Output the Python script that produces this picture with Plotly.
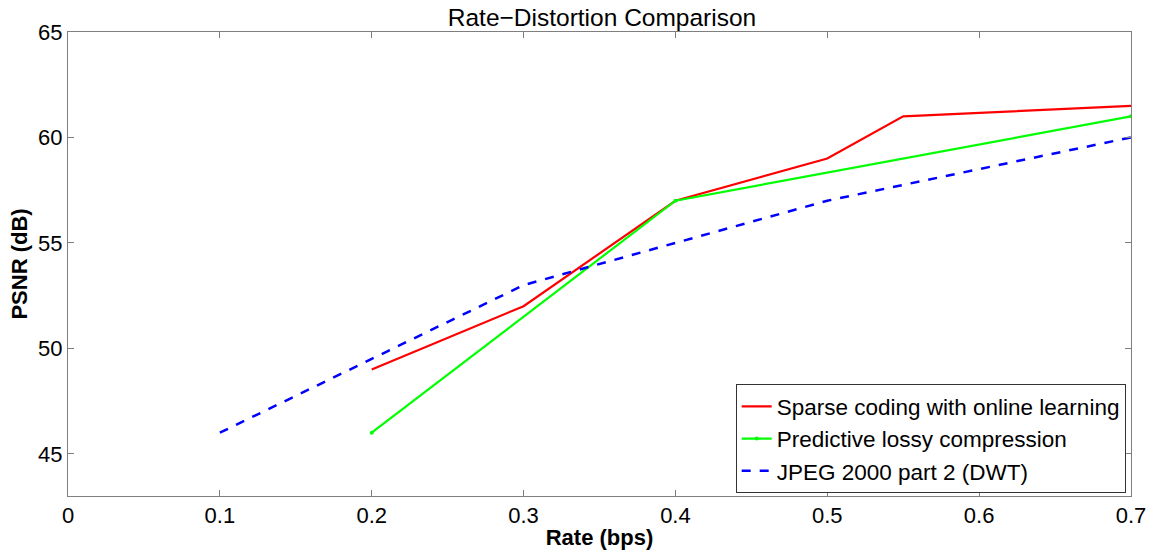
import plotly.graph_objects as go

# Rate (bps) and PSNR (dB) for each codec
rate_sparse = [0.2, 0.3, 0.4, 0.5, 0.55, 0.7]
psnr_sparse = [49, 52, 57, 59, 61, 61.5]

rate_pred = [0.2, 0.4, 0.7]
psnr_pred = [46, 57, 61]

rate_jpeg = [0.1, 0.2, 0.3, 0.4, 0.5, 0.6, 0.7]
psnr_jpeg = [46, 49.5, 53, 55, 57, 58.5, 60]

x_ticks = [0, 0.1, 0.2, 0.3, 0.4, 0.5, 0.6, 0.7]
x_tick_text = ["0", "0.1", "0.2", "0.3", "0.4", "0.5", "0.6", "0.7"]
y_ticks = [45, 50, 55, 60, 65]

FONT = "Liberation Sans, Arial, Helvetica, sans-serif"

fig = go.Figure()
fig.add_trace(go.Scatter(
    x=rate_sparse, y=psnr_sparse, mode="lines",
    name="Sparse coding with online learning",
    line=dict(color="#ff0000", width=2.2),
))
fig.add_trace(go.Scatter(
    x=rate_pred, y=psnr_pred, mode="lines+markers",
    name="Predictive lossy compression",
    line=dict(color="#00ff00", width=2.2),
    marker=dict(color="#00ff00", size=4),
))
fig.add_trace(go.Scatter(
    x=rate_jpeg, y=psnr_jpeg, mode="lines",
    name="JPEG 2000 part 2 (DWT)",
    line=dict(color="#0000ff", width=2.5, dash="dash"),
))

axis_common = dict(
    showline=True, linecolor="#7f7f7f", linewidth=1, mirror="ticks",
    ticks="inside", ticklen=6, tickcolor="#7f7f7f",
    showgrid=False, zeroline=False, automargin=False,
    tickfont=dict(family=FONT, size=22, color="#000"),
)

fig.update_layout(
    width=1159, height=552,
    margin=dict(l=68, r=28, t=32, b=56),
    paper_bgcolor="white", plot_bgcolor="white",
    title=dict(
        text="Rate\u2212Distortion Comparison",
        x=(432 + 772) / 2 / 1159, xanchor="center",
        y=1 - 17 / 552, yanchor="middle",
        font=dict(family=FONT, size=24.5, color="#000"),
    ),
    xaxis=dict(
        range=[0, 0.7], tickvals=x_ticks, ticktext=x_tick_text,
        title=dict(text="<b>Rate (bps)</b>", standoff=2,
                   font=dict(family=FONT, size=22, color="#000")),
        **axis_common,
    ),
    yaxis=dict(
        range=[43, 65], tickvals=y_ticks,
        title=dict(text="<b>PSNR (dB)</b>", standoff=4,
                   font=dict(family=FONT, size=22, color="#000")),
        **axis_common,
    ),
    legend=dict(
        x=0.995, y=0.006, xanchor="right", yanchor="bottom",
        bgcolor="white", bordercolor="#333", borderwidth=1,
        font=dict(family=FONT, size=22.5, color="#000"),
        tracegroupgap=0, itemwidth=30,
    ),
    showlegend=True,
)

fig.write_html("out.html")
